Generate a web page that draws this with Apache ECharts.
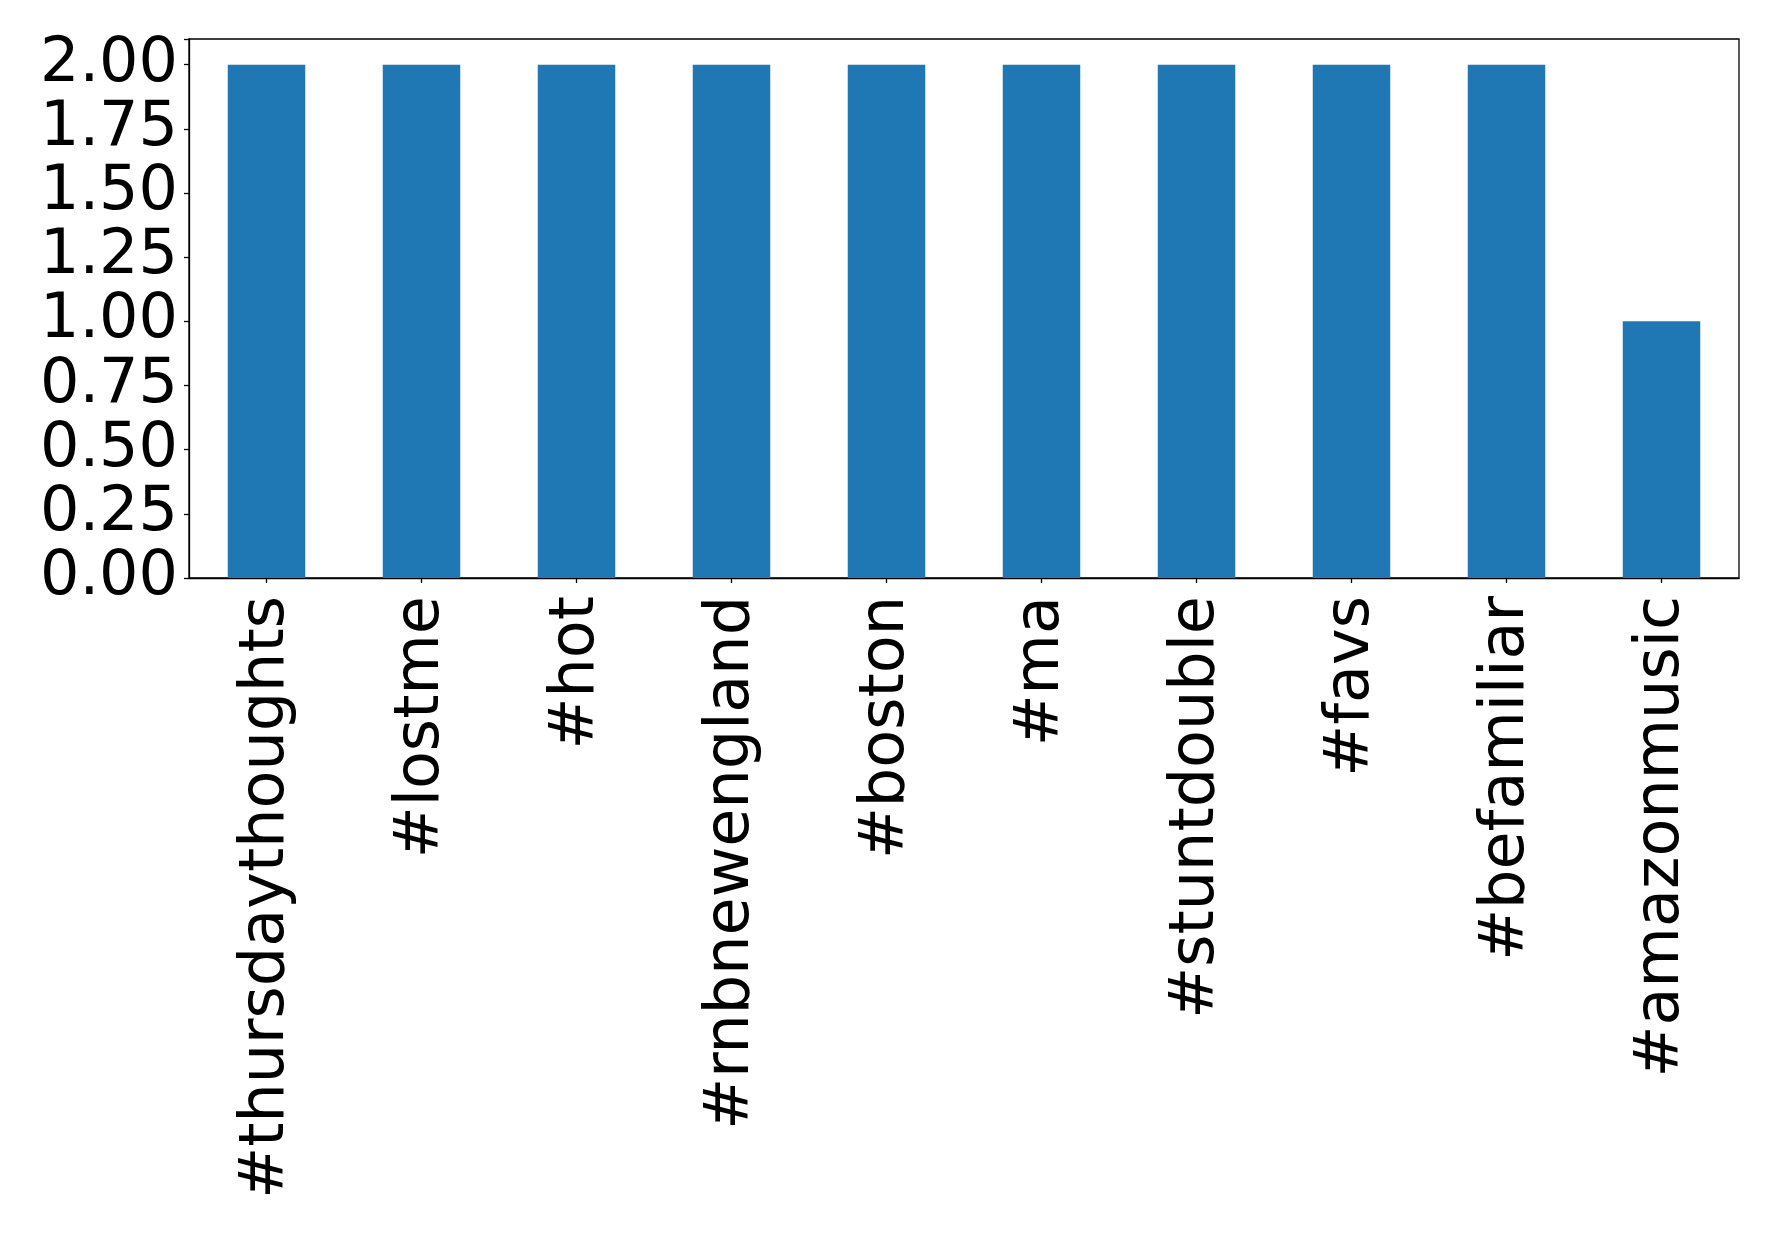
<!DOCTYPE html>
<html>
<head>
<meta charset="utf-8">
<script src="https://cdn.jsdelivr.net/npm/echarts@6/dist/echarts.min.js"></script>
<style>html,body{margin:0;padding:0;background:#fff}#c{width:1778px;height:1235px}</style>
</head>
<body>
<div id="c"></div>
<script>
const categories = ['#thursdaythoughts','#lostme','#hot','#rnbnewengland','#boston','#ma','#stuntdouble','#favs','#befamiliar','#amazonmusic'];
const counts = [2,2,2,2,2,2,2,2,2,1];
const yTicks = [0,0.25,0.5,0.75,1,1.25,1.5,1.75,2];

const chart = echarts.init(document.getElementById('c'), null, {renderer:'canvas'});
const font = 'DejaVu Sans';
chart.setOption({
  animation:false,
  backgroundColor:'#fff',
  grid:{left:189, right:39, top:39, bottom:657, show:true, borderColor:'#000', borderWidth:1.3, containLabel:false},
  xAxis:{
    type:'category', data:categories, boundaryGap:true,
    axisLine:{show:true, lineStyle:{color:'#000', width:1.3}},
    axisTick:{show:true, alignWithLabel:true, length:5, lineStyle:{color:'#000', width:1.3}},
    axisLabel:{rotate:90, interval:0, margin:18, color:'#000', fontSize:62, fontFamily:font},
    splitLine:{show:false}
  },
  yAxis:{
    type:'value', min:0, max:2.1, interval:0.25,
    axisLine:{show:true, lineStyle:{color:'#000', width:1.3}},
    axisTick:{show:true, length:5, lineStyle:{color:'#000', width:1.3}},
    axisLabel:{margin:11, color:'#000', fontSize:62, fontFamily:font,
      formatter:function(v){ return yTicks.some(t=>Math.abs(t-v)<1e-9) ? v.toFixed(2) : ''; }},
    splitLine:{show:false}
  },
  series:[{type:'bar', data:counts, barWidth:'50%', itemStyle:{color:'#1f77b4'}}]
});
</script>
</body>
</html>
